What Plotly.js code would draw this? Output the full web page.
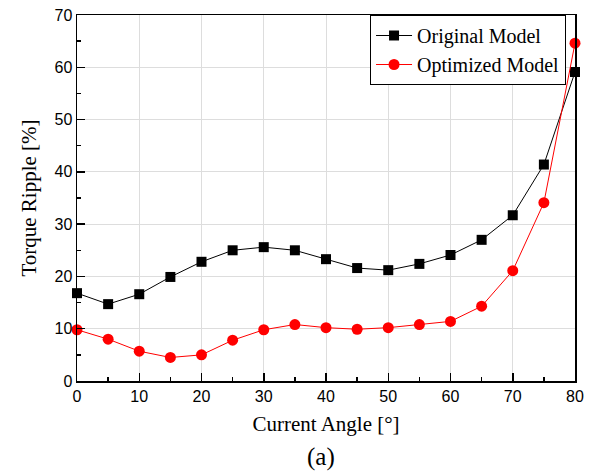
<!DOCTYPE html>
<html>
<head>
<meta charset="utf-8">
<script src="https://cdn.plot.ly/plotly-3.0.1.min.js"></script>
<style>html,body{margin:0;padding:0;background:#fff;}#chart{width:589px;height:472px;}</style>
</head>
<body>
<div id="chart"></div>
<script>
const angles = [0,5,10,15,20,25,30,35,40,45,50,55,60,65,70,75,80];
const originalModel = [16.8,14.7,16.6,19.9,22.8,25.0,25.6,25.0,23.3,21.6,21.2,22.4,24.1,27.0,31.7,41.4,59.1];
const optimizedModel = [9.8,8.0,5.7,4.5,5.0,7.8,9.8,10.8,10.2,9.9,10.2,10.8,11.4,14.3,21.1,34.1,64.6];
const seriesNames = ["Original Model","Optimized Model"];

const traces = [
  {x: angles, y: originalModel, name: seriesNames[0], mode: 'lines+markers', type: 'scatter',
   line: {color: '#000000', width: 1}, marker: {symbol: 'square', size: 10, color: '#000000'}, cliponaxis: false},
  {x: angles, y: optimizedModel, name: seriesNames[1], mode: 'lines+markers', type: 'scatter',
   line: {color: '#ff0000', width: 1}, marker: {symbol: 'circle', size: 11, color: '#ff0000'}, cliponaxis: false}
];

const serif = 'Liberation Serif, Times New Roman, serif';
const sans = 'Liberation Sans, Arial, sans-serif';

const layout = {
  width: 589, height: 472,
  margin: {l: 77, r: 14, t: 15, b: 91},
  paper_bgcolor: '#ffffff', plot_bgcolor: '#ffffff',
  showlegend: true,
  legend: {x: 0.982, xanchor: 'right', y: 1, yanchor: 'top', bgcolor: '#ffffff', bordercolor: '#000000', borderwidth: 1,
    font: {family: serif, size: 20, color: '#000'}, tracegroupgap: 0, itemwidth: 36},
  xaxis: {range: [0, 80], dtick: 10, tick0: 0, showgrid: true, gridcolor: '#dddddd', gridwidth: 1,
    zeroline: false, showline: true, linecolor: '#000', linewidth: 1.5, mirror: true,
    ticks: 'inside', ticklen: 8, tickwidth: 1.5, tickcolor: '#000',
    minor: {dtick: 5, ticks: 'inside', ticklen: 4, tickwidth: 1.5, tickcolor: '#000', showgrid: false},
    tickfont: {family: sans, size: 16, color: '#000'},
    title: {text: 'Current Angle [°]', font: {family: serif, size: 21, color: '#000'}, standoff: 12}},
  yaxis: {range: [0, 70], dtick: 10, tick0: 0, showgrid: true, gridcolor: '#dddddd', gridwidth: 1,
    zeroline: false, showline: true, linecolor: '#000', linewidth: 1.5, mirror: true,
    ticks: 'inside', ticklen: 8, tickwidth: 1.5, tickcolor: '#000',
    minor: {dtick: 5, ticks: 'inside', ticklen: 4, tickwidth: 1.5, tickcolor: '#000', showgrid: false},
    tickfont: {family: sans, size: 16, color: '#000'},
    title: {text: 'Torque Ripple [%]', font: {family: serif, size: 21, color: '#000'}, standoff: 12}},
  annotations: [{text: '(a)', xref: 'paper', yref: 'paper', x: 0.49, y: -0.207, xanchor: 'center', yanchor: 'middle',
    showarrow: false, font: {family: serif, size: 25, color: '#000'}}]
};

Plotly.newPlot('chart', traces, layout, {displayModeBar: false, staticPlot: true});
</script>
</body>
</html>
